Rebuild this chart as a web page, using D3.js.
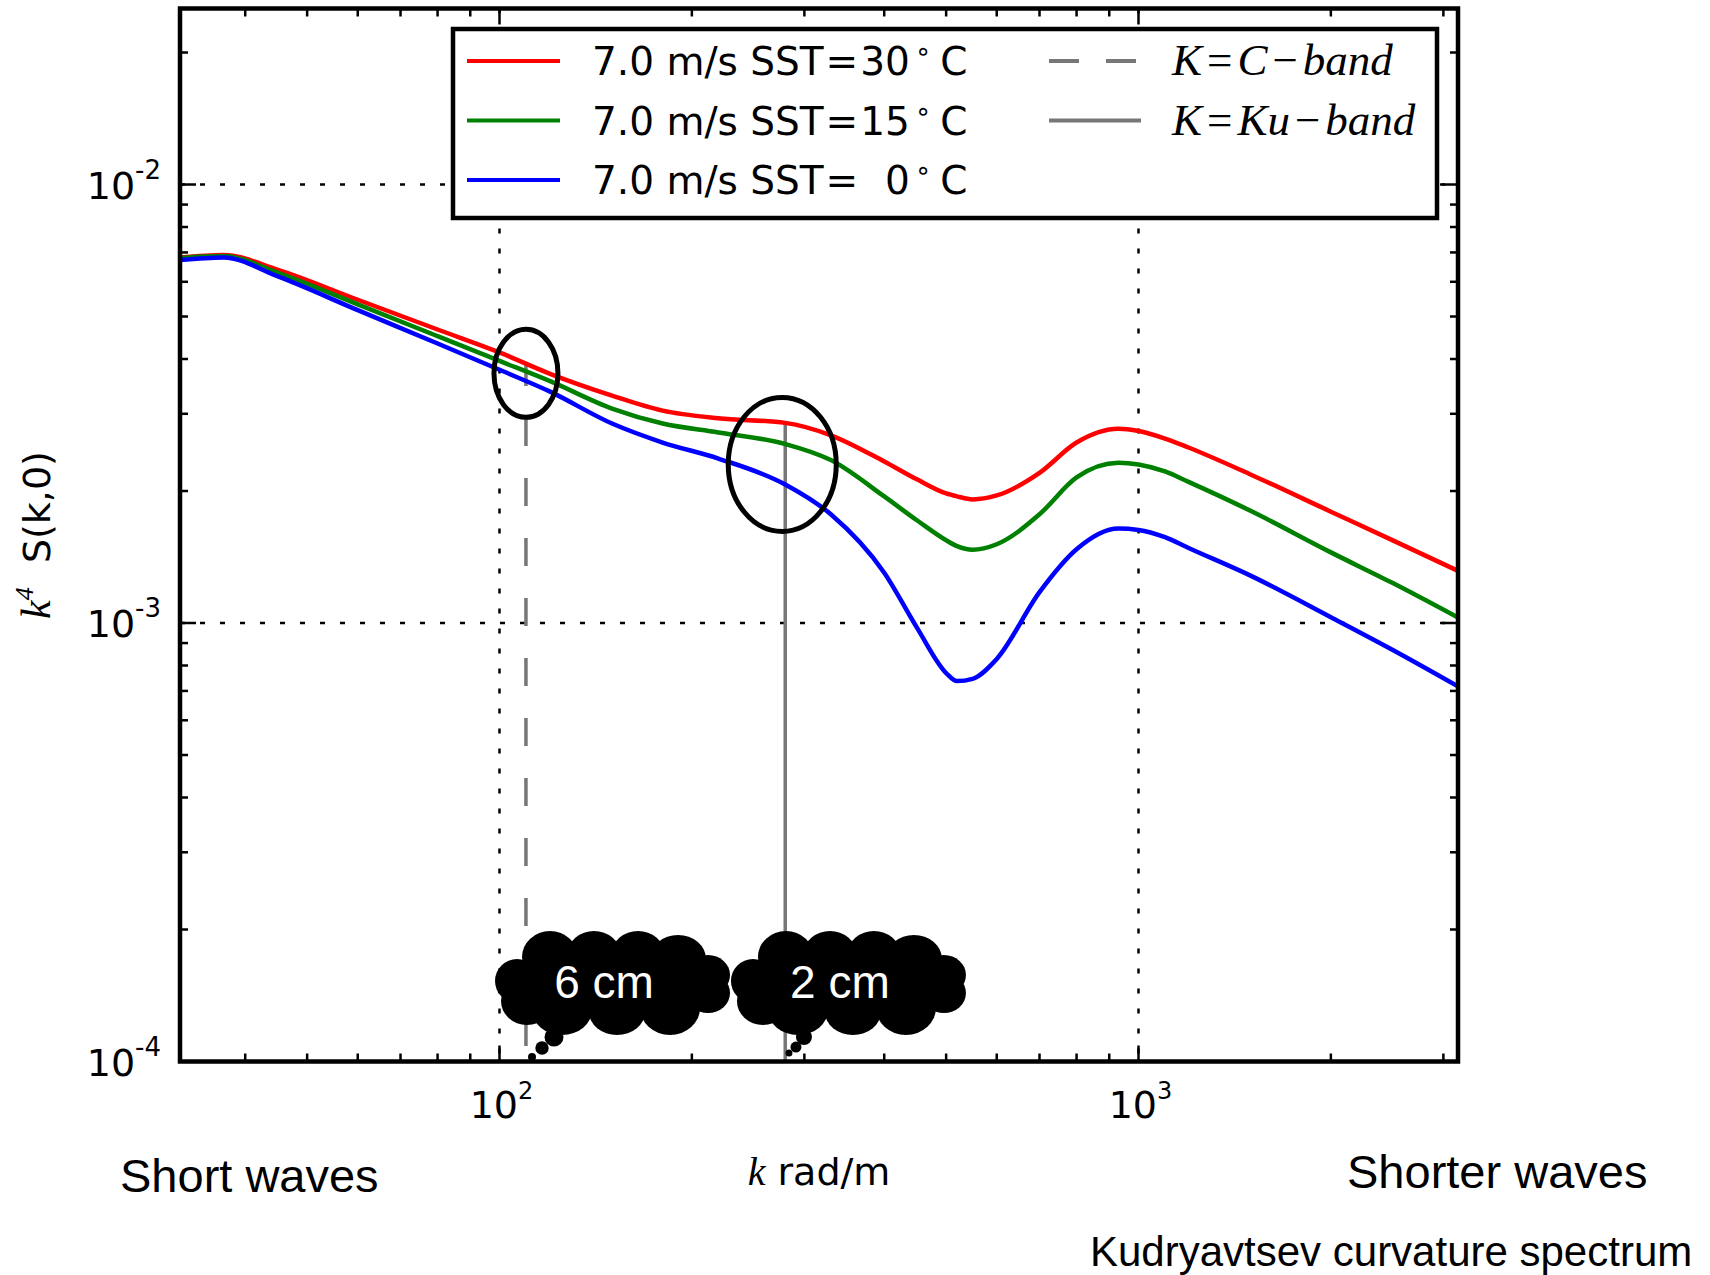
<!DOCTYPE html>
<html>
<head>
<meta charset="utf-8">
<script src="https://cdnjs.cloudflare.com/ajax/libs/d3/7.8.5/d3.min.js"></script>
<style>
  body { margin: 0; background: #fff; }
  text { white-space: pre; }
</style>
</head>
<body>
<div id="chart"></div>
<script>
var width = 1710;
var height = 1275;

// wavenumber samples, rad/m
var kValues = [31.6, 37, 45, 60, 80, 100, 120, 150, 180, 220, 280, 330, 400, 450, 500, 520, 550, 600, 700, 800, 930, 1000, 1100, 1200, 1500, 2000, 2500, 3162];
// k^4 S(k,0) for wind 7.0 m/s
var sst30 = [6.82e-3, 6.91e-3, 6.39e-3, 5.46e-3, 4.67e-3, 4.14e-3, 3.70e-3, 3.30e-3, 3.05e-3, 2.93e-3, 2.86e-3, 2.68e-3, 2.335e-3, 2.126e-3, 1.975e-3, 1.945e-3, 1.914e-3, 1.954e-3, 2.20e-3, 2.58e-3, 2.772e-3, 2.74e-3, 2.634e-3, 2.51e-3, 2.179e-3, 1.794e-3, 1.543e-3, 1.315e-3];
var sst15 = [6.80e-3, 6.87e-3, 6.29e-3, 5.33e-3, 4.51e-3, 3.96e-3, 3.56e-3, 3.083e-3, 2.85e-3, 2.72e-3, 2.56e-3, 2.353e-3, 1.944e-3, 1.715e-3, 1.544e-3, 1.497e-3, 1.469e-3, 1.512e-3, 1.77e-3, 2.148e-3, 2.32e-3, 2.299e-3, 2.216e-3, 2.095e-3, 1.80e-3, 1.449e-3, 1.233e-3, 1.029e-3];
var sst0 = [6.73e-3, 6.82e-3, 6.17e-3, 5.17e-3, 4.34e-3, 3.78e-3, 3.37e-3, 2.85e-3, 2.58e-3, 2.372e-3, 2.07e-3, 1.77e-3, 1.302e-3, 9.76e-4, 7.69e-4, 7.37e-4, 7.46e-4, 8.28e-4, 1.176e-3, 1.473e-3, 1.642e-3, 1.63e-3, 1.569e-3, 1.481e-3, 1.281e-3, 1.031e-3, 8.68e-4, 7.17e-4];
var seriesTemps = ["30", "15", "  0"];
var seriesColors = ["#ff0000", "#008000", "#0000ff"];

// radar bands
var bandNames = ["C", "Ku"];
var bandK = [110, 280];
var bandTop = [3.94e-3, 2.86e-3];
var bandDash = ["28,32", null];

// highlight ellipses and wavelength clouds
var ringK = [110, 277];
var ringV = [3.71e-3, 2.3e-3];
var ringR = [[32, 44], [54, 67]];
var cloudLabels = ["6 cm", "2 cm"];
var cloudK = [150, 351];
var cloudV = 1.51e-4;

// axes
var xMajor = [100, 1000];
var xExp = ["2", "3"];
var xMinor = [40, 50, 60, 70, 80, 90, 200, 300, 400, 500, 600, 700, 800, 900, 2000, 3000];
var yMajor = [1e-4, 1e-3, 1e-2];
var yExp = ["-4", "-3", "-2"];
var yMinor = [2e-4, 3e-4, 4e-4, 5e-4, 6e-4, 7e-4, 8e-4, 9e-4,
              2e-3, 3e-3, 4e-3, 5e-3, 6e-3, 7e-3, 8e-3, 9e-3, 2e-2];

var plotL = 180, plotR = 1458, plotT = 8.5, plotB = 1061.5;

var x = d3.scaleLog().domain([Math.pow(10, 1.5), Math.pow(10, 3.5)]).range([plotL, plotR]);
var y = d3.scaleLog().domain([1e-4, 0.0252]).range([plotB, plotT]);

var svg = d3.select("#chart").append("svg")
    .attr("width", width).attr("height", height)
    .style("background", "#fff");

var sans = "'DejaVu Sans', sans-serif";
var serif = "'Liberation Serif', 'DejaVu Serif', serif";
var arial = "'Liberation Sans', Arial, sans-serif";

// dotted grid at major ticks
xMajor.forEach(function (k) {
  svg.append("line")
     .attr("x1", x(k)).attr("x2", x(k)).attr("y1", plotT).attr("y2", plotB)
     .style("stroke", "#000").style("stroke-width", 2.5)
     .style("stroke-dasharray", "5,15");
});
yMajor.slice(1).forEach(function (v) {
  svg.append("line")
     .attr("x1", plotL).attr("x2", plotR).attr("y1", y(v)).attr("y2", y(v))
     .style("stroke", "#000").style("stroke-width", 2.5)
     .style("stroke-dasharray", "5,15");
});

// band markers
bandK.forEach(function (k, i) {
  var ln = svg.append("line")
     .attr("x1", x(k)).attr("x2", x(k))
     .attr("y1", y(bandTop[i])).attr("y2", y(1e-4))
     .style("stroke", "#777").style("stroke-width", 3.5);
  if (bandDash[i]) ln.style("stroke-dasharray", bandDash[i]).style("stroke-dashoffset", 4);
});

// spectra
var line = d3.line()
    .x(function (d) { return x(d[0]); })
    .y(function (d) { return y(d[1]); })
    .curve(d3.curveMonotoneX);
[sst30, sst15, sst0].forEach(function (vals, i) {
  svg.append("path")
     .datum(d3.zip(kValues, vals))
     .attr("d", line)
     .style("fill", "none")
     .style("stroke", seriesColors[i])
     .style("stroke-width", 4.5);
});

// ticks, inward on all four sides
function xTicks(vals, len) {
  vals.forEach(function (k) {
    svg.append("line").attr("x1", x(k)).attr("x2", x(k))
       .attr("y1", plotB).attr("y2", plotB - len)
       .style("stroke", "#000").style("stroke-width", 2.5);
    svg.append("line").attr("x1", x(k)).attr("x2", x(k))
       .attr("y1", plotT).attr("y2", plotT + len)
       .style("stroke", "#000").style("stroke-width", 2.5);
  });
}
function yTicks(vals, len) {
  vals.forEach(function (v) {
    svg.append("line").attr("x1", plotL).attr("x2", plotL + len)
       .attr("y1", y(v)).attr("y2", y(v))
       .style("stroke", "#000").style("stroke-width", 2.5);
    svg.append("line").attr("x1", plotR).attr("x2", plotR - len)
       .attr("y1", y(v)).attr("y2", y(v))
       .style("stroke", "#000").style("stroke-width", 2.5);
  });
}
xTicks(xMajor, 16);
xTicks(xMinor, 8);
yTicks(yMajor, 16);
yTicks(yMinor, 8);

svg.append("rect")
   .attr("x", plotL).attr("y", plotT)
   .attr("width", plotR - plotL).attr("height", plotB - plotT)
   .style("fill", "none").style("stroke", "#000").style("stroke-width", 4.5);

// tick labels
xMajor.forEach(function (k, i) {
  var t = svg.append("text")
     .attr("x", x(k) + 2).attr("y", 1118)
     .attr("text-anchor", "middle")
     .style("font-family", sans).style("font-size", "38px");
  t.append("tspan").text("10");
  t.append("tspan").attr("dy", -19).style("font-size", "24px").text(xExp[i]);
});
yMajor.forEach(function (v, i) {
  var t = svg.append("text")
     .attr("x", 161).attr("y", y(v) + 14)
     .attr("text-anchor", "end")
     .style("font-family", sans).style("font-size", "38px");
  t.append("tspan").text("10");
  t.append("tspan").attr("dy", -20).style("font-size", "26px").text(yExp[i]);
});

// axis labels
var xl = svg.append("text")
   .attr("x", (plotL + plotR) / 2).attr("y", 1185)
   .attr("text-anchor", "middle")
   .style("font-family", sans).style("font-size", "38px");
xl.append("tspan").style("font-family", serif).style("font-style", "italic")
  .style("font-size", "40px").text("k");
xl.append("tspan").text(" rad/m");

var yl = svg.append("text")
   .attr("transform", "translate(50," + ((plotT + plotB) / 2) + ") rotate(-90)")
   .attr("text-anchor", "middle")
   .style("font-family", sans).style("font-size", "38px");
yl.append("tspan").style("font-family", serif).style("font-style", "italic")
  .style("font-size", "42px").text("k");
yl.append("tspan").attr("dy", -17).style("font-family", serif).style("font-style", "italic")
  .style("font-size", "26px").text("4");
yl.append("tspan").attr("dy", 17).text("  S(k,0)");

// legend
var lg = svg.append("g");
lg.append("rect")
  .attr("x", 453).attr("y", 29).attr("width", 984).attr("height", 189)
  .style("fill", "#fff").style("stroke", "#000").style("stroke-width", 4.5);
seriesTemps.forEach(function (tmp, i) {
  var ry = 61 + i * 59.5;
  lg.append("line").attr("x1", 467).attr("x2", 560).attr("y1", ry).attr("y2", ry)
    .style("stroke", seriesColors[i]).style("stroke-width", 4);
  var t = lg.append("text").attr("x", 592).attr("y", ry + 14)
    .style("font-family", sans).style("font-size", "39px");
  t.append("tspan").text("7.0 m/s SST");
  t.append("tspan").attr("dx", 2).text("=");
  t.append("tspan").attr("dx", 2).text(tmp);
  t.append("tspan").attr("dy", -15).attr("dx", 5).style("font-size", "26px").text("\u2218");
  t.append("tspan").attr("dy", 15).attr("dx", 9).text("C");
});
bandNames.forEach(function (b, i) {
  var ry = 61 + i * 59.5;
  var ln = lg.append("line").attr("x1", 1049).attr("x2", 1141).attr("y1", ry).attr("y2", ry)
    .style("stroke", "#777").style("stroke-width", 4);
  if (bandDash[i]) ln.style("stroke-dasharray", "30,27");
  var t = lg.append("text").attr("x", 1172).attr("y", ry + 14)
    .style("font-family", serif).style("font-size", "45px");
  t.append("tspan").style("font-style", "italic").text("K");
  t.append("tspan").attr("dx", 5).text("=");
  t.append("tspan").attr("dx", 5).style("font-style", "italic").text(b);
  t.append("tspan").attr("dx", 5).text("\u2212");
  t.append("tspan").attr("dx", 5).style("font-style", "italic").text("band");
});

// ellipses around the band crossings
ringK.forEach(function (k, i) {
  svg.append("ellipse")
     .attr("cx", x(k)).attr("cy", y(ringV[i]))
     .attr("rx", ringR[i][0]).attr("ry", ringR[i][1])
     .style("fill", "none").style("stroke", "#000").style("stroke-width", 5);
});

// thought clouds with the radar wavelengths
var bumps = [[0, 0, 92, 36], [-62, -26, 28, 26], [-18, -30, 26, 22], [26, -30, 26, 22],
             [66, -24, 28, 24], [96, -8, 22, 20], [-95, -2, 22, 22], [-85, 18, 26, 24],
             [96, 10, 22, 20], [-50, 27, 30, 25], [5, 29, 28, 23], [58, 25, 30, 27]];
var trail = [[[-58, 54, 9.5], [-70, 65, 6.7], [-80, 74, 4]],
             [[-44, 54, 8], [-52, 64, 5.5], [-59, 70, 3.5]]];
cloudLabels.forEach(function (lab, i) {
  var cx = x(cloudK[i]), cy = y(cloudV);
  var g = svg.append("g").attr("transform", "translate(" + cx + "," + cy + ")");
  bumps.forEach(function (b) {
    g.append("ellipse").attr("cx", b[0]).attr("cy", b[1]).attr("rx", b[2]).attr("ry", b[3])
     .style("fill", "#000");
  });
  trail[i].forEach(function (c) {
    g.append("circle").attr("cx", c[0]).attr("cy", c[1]).attr("r", c[2]).style("fill", "#000");
  });
  g.append("text").attr("x", -8).attr("y", 15)
   .attr("text-anchor", "middle")
   .style("font-family", arial).style("font-size", "46px").style("fill", "#fff")
   .text(lab);
});

// slide annotations
svg.append("text").attr("x", 120).attr("y", 1192)
   .style("font-family", arial).style("font-size", "47px").text("Short waves");
svg.append("text").attr("x", 1347).attr("y", 1188)
   .style("font-family", arial).style("font-size", "47px").text("Shorter waves");
svg.append("text").attr("x", 1090).attr("y", 1266)
   .style("font-family", arial).style("font-size", "42px").text("Kudryavtsev curvature spectrum");
</script>
</body>
</html>
